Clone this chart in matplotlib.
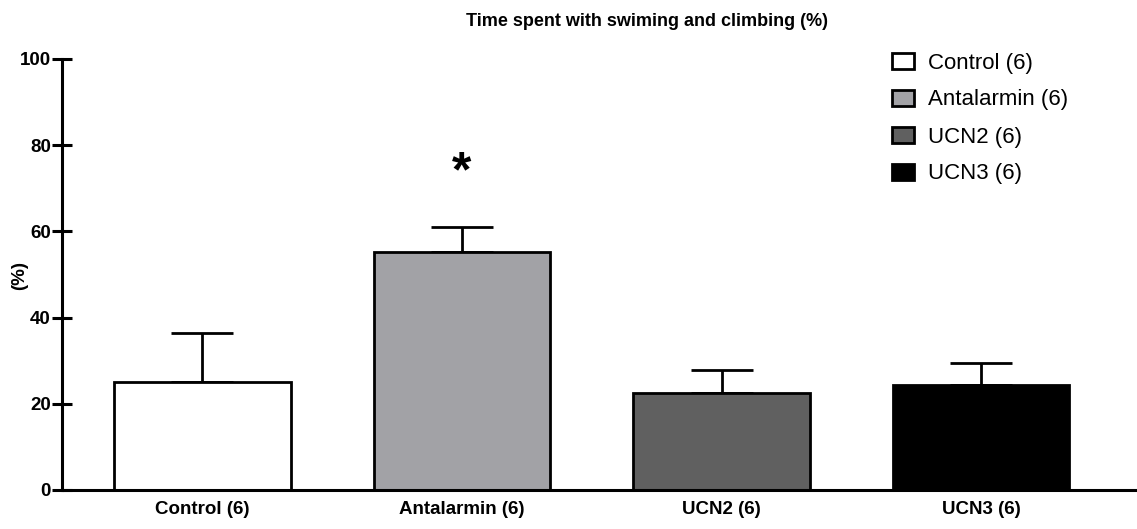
import matplotlib
matplotlib.use("Agg")
import matplotlib.pyplot as plt
import numpy as np
from matplotlib.patches import Patch

plt.rcParams['font.family'] = ['Liberation Sans', 'DejaVu Sans']

categories = ["Control (6)", "Antalarmin (6)", "UCN2 (6)", "UCN3 (6)"]
means = [25.1, 55.2, 22.4, 24.3]
sems = [11.3, 5.9, 5.4, 5.2]
colors = ["#ffffff", "#a2a2a6", "#606060", "#000000"]
title = "Time spent with swiming and climbing (%)"
ylabel = "(%)"
yticks = [0, 20, 40, 60, 80, 100]

W, H = 1137, 529
fig = plt.figure(figsize=(W / 100, H / 100), dpi=100)
ax = fig.add_axes([62 / W, (H - 490) / H, (W - 62) / W, (490 - 59) / H])

x = np.arange(len(categories))
lw = 2.0
ax.bar(x, means, width=0.68, color=colors, edgecolor="black", linewidth=lw, zorder=2)
ax.errorbar(x, means, yerr=[np.zeros(len(sems)), sems], fmt="none", ecolor="black",
            elinewidth=lw, capsize=22, capthick=lw, zorder=1)

ax.set_xlim(-0.54, 3.60)
ax.set_ylim(0, 100)
ax.set_yticks(yticks)
ax.set_xticks(x)
ax.set_xticklabels(categories, fontsize=13.5, fontweight="bold")
ax.tick_params(axis="x", length=0, pad=8)
ax.tick_params(axis="y", direction="inout", length=14, width=2.2, pad=1, labelsize=13.5)
for lab in ax.get_yticklabels():
    lab.set_fontweight("bold")

for s in ["top", "right"]:
    ax.spines[s].set_visible(False)
for s in ["left", "bottom"]:
    ax.spines[s].set_linewidth(2.2)
ax.spines["bottom"].set_capstyle("butt")

fig.text(20 / W, (H - 275) / H, ylabel, rotation=90, ha="center", va="center",
         fontsize=13.5, fontweight="bold")

ax.text(1, 73.5, "*", ha="center", va="center", fontsize=36, fontweight="bold")

fig.text(647 / W, (H - 21) / H, title, ha="center", va="center", fontsize=13, fontweight="bold")

handles = [Patch(facecolor=c, edgecolor="black", linewidth=2.0) for c in colors]
fig.legend(handles, categories, loc="upper left", bbox_to_anchor=(892 / W, (H - 52.5) / H),
           frameon=False, fontsize=16, handlelength=1.0, handleheight=0.72,
           handletextpad=0.62, labelspacing=0.72, borderpad=0, borderaxespad=0)

fig.savefig("out.png", dpi=100)
